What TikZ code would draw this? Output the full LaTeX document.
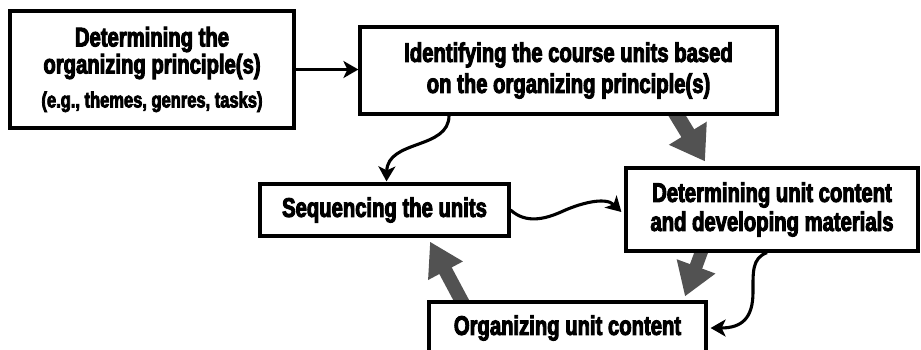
\documentclass[tikz,border=0pt]{standalone}
\usepackage{fontspec}
\newfontfamily\stagefont{Liberation Sans}[FakeStretch=0.75, BoldFeatures={FakeBold=3.5}]
\usetikzlibrary{arrows.meta,backgrounds}
\definecolor{heavygray}{gray}{0.32}
\tikzset{
  stage/.style={draw, line width=3.2pt, fill=white, inner sep=0pt, align=center,
    font=\stagefont\bfseries\fontsize{27}{#1}\selectfont},
  stage/.default=30,
  thinarrow/.style={line width=3.1pt, -{Stealth[length=15pt,width=17pt,inset=4pt]}},
  heavyarrow/.style={draw=heavygray, line width=#1},
}
\begin{document}
\begin{tikzpicture}[x=1pt,y=-1pt]
\useasboundingbox (0,0) rectangle (921,349);
\clip (0,0) rectangle (921,349);

% process stages
\node[stage=27, minimum width=284pt, minimum height=117pt] (A) at (152,69.5)
  {Determining the\\organizing principle(s)\\[7pt]{\fontsize{22}{24}\selectfont (e.g., themes, genres, tasks)}};
\node[stage=31, minimum width=417pt, minimum height=87pt] (B) at (568.5,70.5)
  {Identifying the course units based\\on the organizing principle(s)};
\node[stage, minimum width=249pt, minimum height=52pt] (C) at (384.5,210)
  {Sequencing the units};
\node[stage=29, minimum width=292pt, minimum height=83pt] (D) at (772,209.5)
  {Determining unit content\\and developing materials};
\node[stage, minimum width=277pt, minimum height=52pt] (E) at (567.5,328)
  {Organizing unit content};

% main cycle: broad gray arrows, tucked behind the boxes
\begin{scope}[on background layer]
  \draw[heavyarrow=15pt, -{Triangle[length=33pt,width=42pt]}]
    ([xshift=105.5pt,yshift=5pt]B.south) -- ([xshift=-67pt,yshift=5pt]D.north);
  \draw[heavyarrow=13pt, -{Triangle[length=32pt,width=39pt]}]
    ([xshift=-69pt,yshift=5pt]D.south) -- ([xshift=117.5pt,yshift=4pt]E.north);
  \draw[heavyarrow=14pt, -{Triangle[length=33pt,width=37pt]}]
    ([xshift=-103.5pt,yshift=-5pt]E.north) -- ([xshift=45.5pt,yshift=-4pt]C.south);
\end{scope}

% thin connectors
\draw[thinarrow] (A.east) -- (A.east -| B.west);
\draw[thinarrow] ([xshift=-119.5pt]B.south) .. controls +(0,34) and +(1,-42) .. ([xshift=2pt,yshift=1pt]C.north);
\draw[thinarrow] (C.east) .. controls (526,224) and (545,219) .. (561,212)
  .. controls (578,204) and (605,196) .. ([xshift=-3pt,yshift=-2.5pt]D.west);
\draw[thinarrow] ([xshift=-5pt]D.south) .. controls (752,258) and (753,272) .. (753,292)
  .. controls (753,318) and (742,328) .. ([xshift=3pt]E.east);
\end{tikzpicture}
\end{document}
